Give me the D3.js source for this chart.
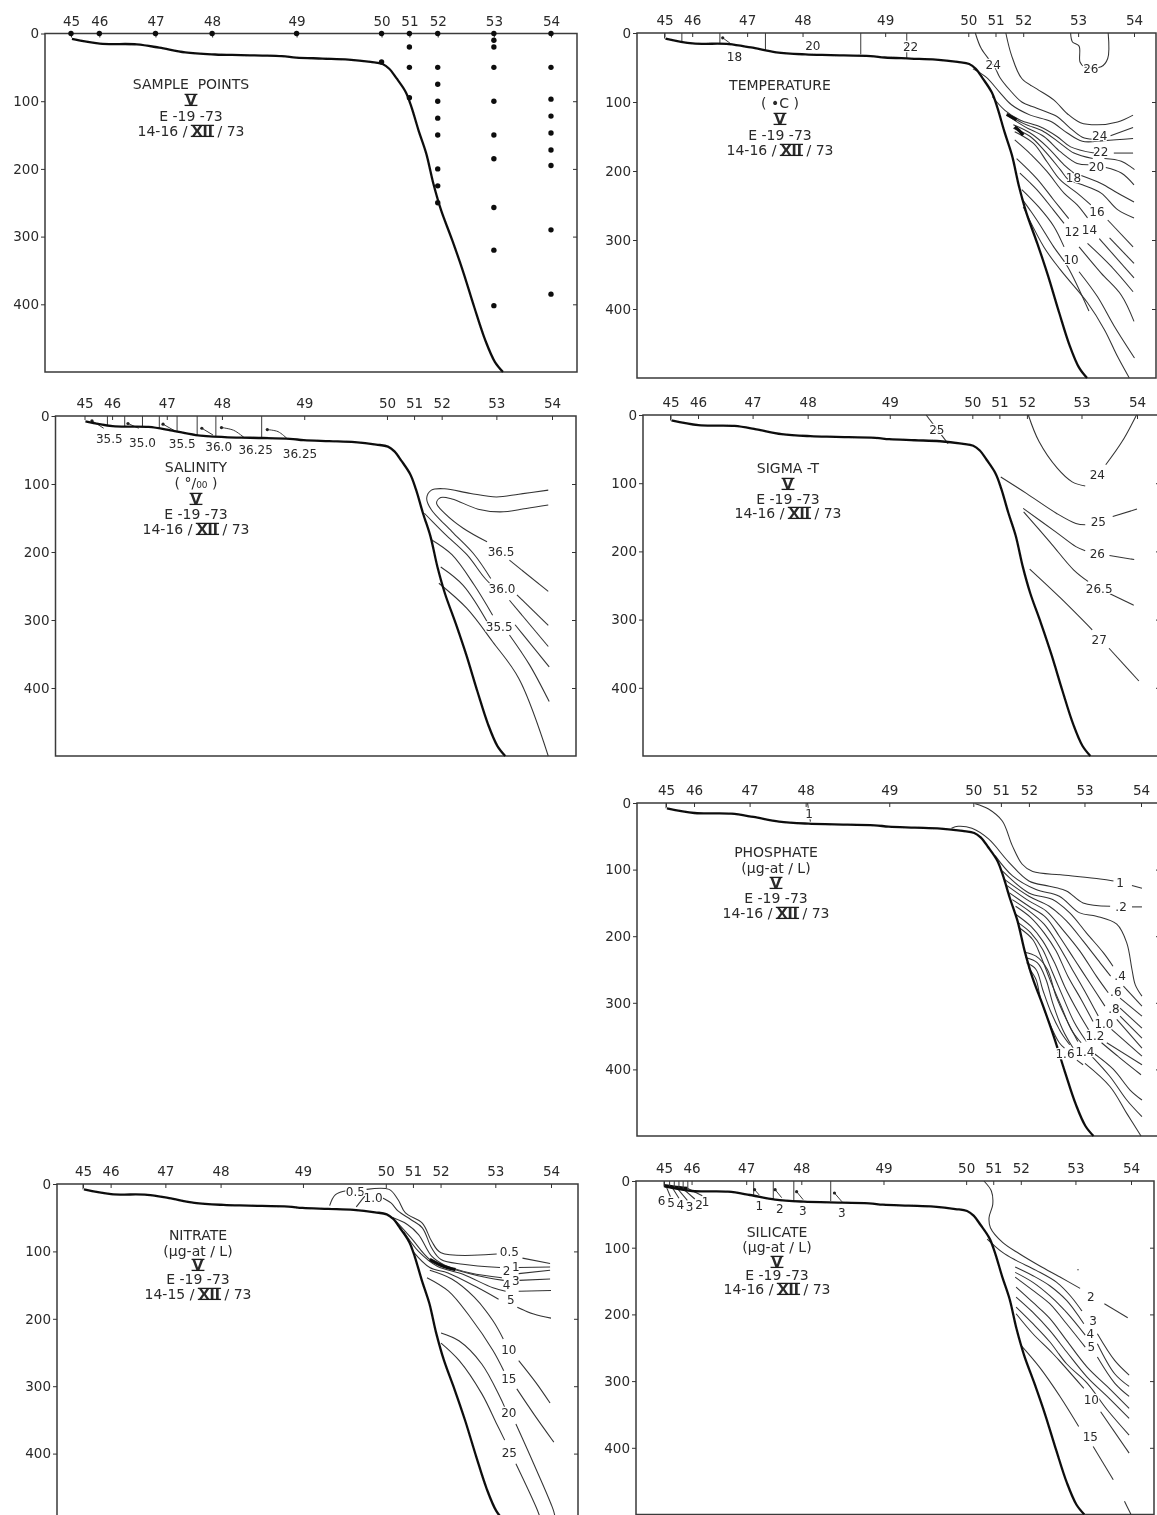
<!DOCTYPE html>
<html><head><meta charset="utf-8">
<script src="https://cdn.jsdelivr.net/npm/d3@7"></script>
<style>
html,body{margin:0;padding:0;background:#fff}
svg{display:block}
text{font-family:"DejaVu Sans",sans-serif;fill:#2a2a2a;white-space:pre}
.roman{font-weight:bold}
</style></head><body>
<svg id="c" width="1157" height="1515"></svg>
<script>
// ---------- shared section geometry (distance along section 0-1000, depth in m)
const stationNames = ["45","46","47","48","49","50","51","52","53","54"];
const stationDist  = [0,59,176,294,470,647,705,764,881,1000];
const depthTicks   = [0,100,200,300,400];
const bottomProfile = [[2,8],[60,15],[137,16],[184,21],[238,28],[300,31],[354,32],[439,33.5],[469,35.5],[524,37],[578,38.5],[624,42],[649,45],[663,52],[678,66],[697,86],[709,108],[724,143],[740,177],[755,222],[771,261],[794,305],[817,352],[840,404],[863,453],[883,485],[900,500]];

// ---------- sample points: depth lists per station
const sampleStations = ["45","46","47","48","49","50","51","52","53","54"];
const sampleDepths = [[0],[0],[0],[0],[0],[0,42],[0,20,50,95],[0,50,75,100,125,150,200,225,250],[0,10,20,50,100,150,185,257,320,402],[0,50,97,122,147,172,195,290,385]];

// ---------- temperature
const tempLines = [
 [[727,0],[739,32],[761,66],[793,81],[829,97],[858,117],[886,130],[922,133],[965,129],[998,119]],
 [[662,0],[675,23],[703,49],[714,64],[736,83],[761,100],[793,109],[836,121],[861,136],[890,151],[912,154]],
 [[950,149],[998,137]],
 [[657,52],[685,64],[714,86],[739,104],[779,119],[822,128],[858,145],[890,157],[937,156],[998,153]],
 [[698,92],[725,112],[757,126],[800,136],[836,150],[865,165],[915,174]],
 [[957,174],[998,174]],
 [[729,117],[764,131],[808,143],[843,160],[872,174],[912,182]],
 [[937,182],[973,186],[1001,198]],
 [[729,119],[768,136],[808,150],[843,172],[879,189],[904,191]],
 [[940,195],[973,203],[1000,220]],
 [[743,133],[779,145],[815,165],[851,191],[872,203]],
 [[886,206],[930,218],[965,232],[1000,245]],
 [[743,138],[779,150],[811,172],[843,198],[861,213],[890,220],[930,232],[965,256],[1000,268]],
 [[746,143],[786,160],[815,187],[843,213],[879,232],[908,249]],
 [[944,271],[998,310]],
 [[746,155],[782,177],[815,201],[851,232],[879,249],[901,268]],
 [[948,297],[1000,334]],
 [[750,182],[793,211],[829,242],[861,269]],
 [[926,298],[1000,355]],
 [[757,203],[793,227],[829,257],[851,276]],
 [[901,305],[951,338],[998,375]],
 [[761,227],[797,252],[829,280],[851,310]],
 [[883,310],[930,348],[973,380],[1000,418]],
 [[761,240],[793,271],[829,310],[858,338],[904,403]],
 [[883,346],[922,382],[958,425],[1001,471]],
 [[764,252],[808,310],[843,343],[901,391],[937,430],[965,469],[990,500]],
 [[865,0],[869,13],[883,19],[885,42],[894,49],[930,49],[944,37],[945,0]]
];
const tempHeavy = [[[729,118],[750,126]],[[746,136],[756,142],[764,148]]];
const tempVerticals = [[0,8],[37,13],[118,15],[215,26],[418,31],[516,36]];
const tempHooks = [[[124,7],[144,17]]];
const tempLabels = [["18",149,35],["20",316,18],["22",524,20],["24",700,46],["26",908,52],["24",927,149],["22",929,172],["20",920,194],["18",871,210],["16",921,259],["14",905,285],["12",868,288],["10",866,328]];

// ---------- salinity
const salLines = [
 [[992,131],[945,136],[889,141],[842,137],[786,122],[762,120],[753,128],[770,143],[810,165],[861,185]],
 [[909,212],[992,258]],
 [[992,109],[929,115],[881,119],[826,114],[770,107],[742,109],[732,121],[742,138],[786,170],[834,204],[869,239]],
 [[925,263],[992,308]],
 [[727,143],[770,173],[818,204],[857,239],[885,258]],
 [[909,271],[992,339]],
 [[742,182],[786,204],[834,249],[873,293]],
 [[921,307],[994,369]],
 [[762,222],[810,249],[865,307]],
 [[909,322],[952,366],[994,420]],
 [[758,246],[818,283],[873,332],[929,386],[992,500]]
];
const salVerticals = [[49,14],[86,15],[124,16],[160,19],[198,23],[241,28],[281,30],[379,33]];
const salHooks = [[[16,7],[41,18]],[[93,11],[116,18]],[[168,12],[196,23]],[[251,18],[275,28]],[[293,17],[319,21],[342,32]],[[391,20],[414,23],[433,33]]];
const salLabels = [["35.5",53,34],["35.0",124,39],["35.5",209,40],["36.0",287,45],["36.25",366,50],["36.25",461,55],["36.5",891,200],["36.0",893,254],["35.5",887,310]];

// ---------- sigma-t
const sigmaLines = [
 [[548,0],[595,42]],
 [[767,0],[790,39],[829,78],[861,98],[889,104]],
 [[933,73],[968,39],[999,0]],
 [[708,91],[763,115],[827,144],[869,159],[889,161]],
 [[948,149],[1000,138]],
 [[756,137],[825,171],[869,193],[889,199]],
 [[941,206],[994,212]],
 [[757,142],[813,186],[864,227],[895,244]],
 [[942,262],[993,279]],
 [[770,226],[837,269],[904,315]],
 [[940,342],[1004,390]]
];
const sigmaVerticals = [[0,8]];
const sigmaLabels = [["25",571,21],["24",915,87],["25",917,156],["26",915,203],["26.5",919,254],["27",919,330]];

// ---------- phosphate
const phosLines = [
 [[298,0],[304,28]],
 [[651,1],[679,9],[708,27],[729,64],[750,92],[772,103],[835,108],[914,114],[942,117]],
 [[981,124],[1002,128]],
 [[601,38],[615,35],[644,38],[679,54],[722,89],[764,117],[807,125],[843,132],[878,150],[935,155]],
 [[981,156],[1002,156]],
 [[693,79],[729,109],[779,130],[828,140],[871,165],[906,170],[949,182],[970,210],[981,250],[988,273],[1002,290]],
 [[708,102],[764,135],[814,145],[850,165],[885,195],[921,225],[941,245]],
 [[963,275],[1002,305]],
 [[711,114],[764,140],[807,155],[843,177],[878,207],[914,240],[936,260]],
 [[956,293],[1002,320]],
 [[718,124],[764,147],[800,162],[835,190],[871,222],[906,260],[931,285]],
 [[956,308],[1002,338]],
 [[723,135],[764,155],[800,172],[828,200],[860,235],[892,270],[924,305]],
 [[956,320],[1002,353]],
 [[729,145],[764,162],[796,182],[825,212],[853,247],[882,283],[910,320]],
 [[949,325],[1002,368]],
 [[736,155],[768,172],[796,195],[821,222],[846,260],[874,295],[899,328]],
 [[938,340],[1002,380]],
 [[736,167],[768,185],[793,207],[818,240],[839,275],[867,313],[892,343]],
 [[928,360],[1002,393]],
 [[742,180],[768,195],[793,220],[814,255],[835,290],[860,330],[885,358]],
 [[917,360],[956,383],[1000,408]],
 [[743,187],[772,205],[789,230],[811,270],[832,305],[853,340],[874,360]],
 [[899,375],[942,400],[977,431],[1002,446]],
 [[754,224],[779,230],[803,250],[821,290],[843,325],[867,358]],
 [[896,380],[935,411],[970,446],[1002,471]],
 [[757,232],[782,240],[800,265],[814,300],[835,340],[857,368]],
 [[882,391],[935,426],[970,466],[1000,500]],
 [[759,240],[779,250],[793,280],[811,315],[832,345],[850,363]],
 [[763,247],[779,265],[789,295],[807,330],[828,360],[839,368]],
 [[865,386],[878,393]]
];
const phosVerticals = [[0,8]];
const phosLabels = [["1",301,16],["1",956,119],[".2",958,156],[".4",956,259],[".6",947,283],[".8",943,309],["1.0",922,331],["1.2",903,349],["1.4",882,373],["1.6",840,377]];

// ---------- nitrate
const nitLines = [
 [[527,32],[539,16],[563,10]],
 [[606,8],[654,8],[673,23],[689,43],[725,58],[745,85],[765,102],[884,104]],
 [[939,110],[998,118]],
 [[584,34],[602,18]],
 [[638,20],[658,28],[673,40],[701,53],[725,65],[745,95],[765,112],[812,119],[891,124]],
 [[931,124],[998,123]],
 [[654,48],[693,60],[717,75],[745,107],[772,120],[828,132],[895,139]],
 [[931,133],[998,128]],
 [[662,50],[701,80],[741,112],[780,124],[844,136],[899,143]],
 [[931,143],[998,141]],
 [[685,70],[717,100],[757,122],[812,134],[876,154],[903,159]],
 [[931,159],[1000,158]],
 [[705,100],[741,124],[780,132],[844,154],[888,171]],
 [[928,183],[963,193],[1000,199]],
 [[741,128],[788,141],[836,168],[876,203],[898,230]],
 [[931,262],[967,294],[998,325]],
 [[735,139],[781,159],[828,198],[876,247],[899,277]],
 [[927,304],[963,341],[1006,383]],
 [[765,221],[804,233],[852,267],[891,316],[901,331]],
 [[925,356],[963,415],[1006,486],[1010,500]],
 [[765,236],[804,262],[852,311],[884,356],[901,380]],
 [[925,415],[971,484],[979,500]]
];
const nitHeavy = [[[741,112],[770,122],[796,127]]];
const nitVerticals = [[0,8]];
const nitLabels = [["0.5",582,11],["1.0",620,21],["0.5",911,101],["1",925,122],["2",905,128],["3",925,143],["4",905,150],["5",914,172],["10",910,246],["15",910,289],["20",910,339],["25",911,399]];

// ---------- silicate
const silLines = [
 [[685,0],[701,15],[704,35],[696,55],[699,70],[725,92],[761,109],[804,127],[848,144],[891,161]],
 [[943,184],[993,205]],
 [[692,87],[725,107],[754,119],[797,134],[841,152],[870,172],[895,195]],
 [[752,129],[790,142],[826,157],[862,179],[899,214]],
 [[928,229],[965,269],[996,291]],
 [[752,137],[790,152],[826,172],[862,197],[902,231]],
 [[928,244],[965,289],[996,308]],
 [[752,144],[790,164],[826,184],[862,214],[902,249]],
 [[928,264],[965,303],[996,323]],
 [[754,159],[790,182],[826,206],[862,239],[906,279],[949,308],[996,341]],
 [[754,174],[790,197],[826,224],[862,256],[906,294],[949,323],[996,356]],
 [[754,189],[790,214],[826,241],[862,274],[906,303],[949,343],[996,381]],
 [[754,199],[790,229],[833,259],[899,311]],
 [[935,346],[996,408]],
 [[764,246],[804,279],[848,323],[888,368]],
 [[919,398],[962,448]],
 [[986,480],[1000,500]],
 [[885,133],[888,133]]
];
const silVerticals = [[0,8],[12,9],[22,10],[32,11],[41,12],[51,13],[192,21],[234,27],[278,29],[357,30]];
const silHooks = [[[194,13],[204,21]],[[238,13],[252,25]],[[284,16],[298,28]],[[365,18],[381,31]]];
const silTicks = [[[4,7],[14,24]],[[16,8],[32,26]],[[26,9],[50,29]],[[38,10],[66,27]],[[50,11],[82,22]]];
const silHeavy = [[[0,7],[22,9],[50,11]]];
const silLabels = [["6",-5,30],["5",15,33],["4",35,36],["3",55,39],["2",75,36],["1",89,31],["1",204,37],["2",248,42],["3",297,45],["3",381,47],["2",914,173],["3",919,209],["4",913,229],["5",915,249],["10",915,328],["15",913,383]];

// ---------- panel layout
const panels = [
 {x0:71, x1:551, left:45, right:577, y0:33.5, y500:372, tc:191,
  title:["SAMPLE  POINTS","V","E -19 -73","14-16 / XII / 73"], ty:[84,100,116,131], samples:true},
 {x0:664.5, x1:1134, left:637, right:1156, y0:33, y500:378, tc:780,
  title:["TEMPERATURE","( •C )","V","E -19 -73","14-16 / XII / 73"], ty:[85,103,119,135,150],
  lines:tempLines, heavy:tempHeavy, verticals:tempVerticals, hooks:tempHooks, labels:tempLabels},
 {x0:84.5, x1:552, left:55.5, right:576, y0:416, y500:756, tc:196,
  title:["SALINITY","( °/₀₀ )","V","E -19 -73","14-16 / XII / 73"], ty:[467,483,499,514,529],
  lines:salLines, verticals:salVerticals, hooks:salHooks, labels:salLabels},
 {x0:670.5, x1:1137, left:643, right:1160, y0:415, y500:756, tc:788,
  title:["SIGMA -T","V","E -19 -73","14-16 / XII / 73"], ty:[468,484,499,513],
  lines:sigmaLines, verticals:sigmaVerticals, labels:sigmaLabels},
 {x0:666, x1:1141, left:637, right:1160, y0:803, y500:1136, tc:776,
  title:["PHOSPHATE","(µg-at / L)","V","E -19 -73","14-16 / XII / 73"], ty:[852,868,883,898,913],
  lines:phosLines, verticals:phosVerticals, labels:phosLabels},
 {x0:83, x1:551, left:57, right:578, y0:1184, y500:1521, tc:198,
  title:["NITRATE","(µg-at / L)","V","E -19 -73","14-15 / XII / 73"], ty:[1235,1251,1265,1279,1294],
  lines:nitLines, heavy:nitHeavy, verticals:nitVerticals, labels:nitLabels},
 {x0:664, x1:1131, left:636, right:1154, y0:1181, y500:1514.5, tc:777,
  title:["SILICATE","(µg-at / L)","V","E -19 -73","14-16 / XII / 73"], ty:[1232,1247,1262,1275,1289],
  lines:silLines, heavy:silHeavy, verticals:silVerticals, hooks:silHooks, extra:silTicks, labels:silLabels}
];

const svg = d3.select("#c");
const defs = svg.append("defs");
defs.append("filter").attr("id","scan").attr("x",0).attr("y",0).attr("width",1157).attr("height",1515)
    .attr("filterUnits","userSpaceOnUse")
    .append("feGaussianBlur").attr("stdDeviation",0.4);
const root = svg.append("g").attr("filter","url(#scan)");

const line = (x,y)=>d3.line().x(d=>x(d[0])).y(d=>y(d[1])).curve(d3.curveCatmullRom.alpha(0.5));

panels.forEach(p=>{
  const g = root.append("g");
  const x = d3.scaleLinear().domain([0,1000]).range([p.x0,p.x1]);
  const y = d3.scaleLinear().domain([0,500]).range([p.y0,p.y500]);
  const path = line(x,y);

  // frame
  g.append("path").attr("fill","none").attr("stroke","#3a3a3a").attr("stroke-width",1.5)
   .attr("d",`M${p.left},${p.y0}H${p.right}V${p.y500}H${p.left}Z`);

  // axes
  const top = d3.axisTop(x).tickValues(stationDist).tickSizeInner(-4).tickSizeOuter(0).tickPadding(8)
     .tickFormat(d=>stationNames[stationDist.indexOf(d)]);
  const ax = g.append("g").attr("transform",`translate(0,${p.y0})`).call(top);
  const lf = d3.axisLeft(y).tickValues(depthTicks).tickSizeInner(4).tickSizeOuter(0).tickPadding(2).tickFormat(d3.format("d"));
  const ay = g.append("g").attr("transform",`translate(${p.left},0)`).call(lf);
  const rt = d3.axisLeft(y).tickValues(depthTicks.slice(1)).tickSizeInner(4).tickSizeOuter(0).tickFormat("");
  const ar = g.append("g").attr("transform",`translate(${p.right},0)`).call(rt);
  [ax,ay,ar].forEach(a=>{
    a.select(".domain").remove();
    a.selectAll("line").attr("stroke","#333").attr("stroke-width",1);
    a.selectAll("text").attr("font-family","DejaVu Sans").attr("font-size",13.5).attr("fill","#2a2a2a");
  });

  // thin contour lines
  const thin = [...(p.lines||[]),...(p.extra||[])];
  g.selectAll("path.c").data(thin).join("path").attr("class","c")
   .attr("fill","none").attr("stroke","#333").attr("stroke-width",1.05).attr("d",path);
  g.selectAll("path.h").data(p.heavy||[]).join("path").attr("class","h")
   .attr("fill","none").attr("stroke","#111").attr("stroke-width",3.2).attr("d",path);
  g.selectAll("line.v").data(p.verticals||[]).join("line").attr("class","v")
   .attr("x1",d=>x(d[0])).attr("x2",d=>x(d[0])).attr("y1",y(0)).attr("y2",d=>y(d[1]))
   .attr("stroke","#3a3a3a").attr("stroke-width",1);
  g.selectAll("path.k").data(p.hooks||[]).join("path").attr("class","k")
   .attr("fill","none").attr("stroke","#3a3a3a").attr("stroke-width",1).attr("d",path);
  g.selectAll("circle.k").data(p.hooks||[]).join("circle").attr("class","k")
   .attr("cx",d=>x(d[0][0])).attr("cy",d=>y(d[0][1])).attr("r",1.6).attr("fill","#222");

  // bottom profile
  g.append("path").datum(bottomProfile).attr("fill","none").attr("stroke","#111")
   .attr("stroke-width",2.3).attr("stroke-linejoin","round").attr("d",path);

  // sample points
  if(p.samples){
    const pts = sampleDepths.flatMap((ds,i)=>ds.map(d=>[stationDist[i],d]));
    g.selectAll("circle.s").data(pts).join("circle").attr("class","s")
     .attr("cx",d=>x(d[0])).attr("cy",d=>y(d[1])).attr("r",2.7).attr("fill","#111");
  }

  // contour labels
  g.selectAll("text.l").data(p.labels||[]).join("text").attr("class","l")
   .attr("x",d=>x(d[1])).attr("y",d=>y(d[2])).attr("dy","0.36em")
   .attr("text-anchor","middle").attr("font-size",12)
   .attr("stroke","#fff").attr("stroke-width",2.5).attr("paint-order","stroke").text(d=>d[0]);

  // title block, roman numerals barred above and below
  p.title.forEach((t,i)=>{
    const tx = g.append("text").attr("x",p.tc).attr("y",p.ty[i]).attr("dy","0.36em")
       .attr("text-anchor","middle").attr("font-size",14);
    const parts = t==="V" ? ["V"] : t.split(/(XII)/);
    const romans = [];
    parts.forEach(part=>{
      const s = tx.append("tspan").text(part);
      if(part==="XII"||part==="V"){ s.attr("class","roman"); romans.push(s); }
    });
    romans.forEach(s=>{
      const n = s.node(), a = n.getStartPositionOfChar(0).x, w = n.getComputedTextLength();
      [-5.6,5.4].forEach(off=>{
        g.append("line").attr("x1",a-1).attr("x2",a+w+1).attr("y1",p.ty[i]+off).attr("y2",p.ty[i]+off)
         .attr("stroke","#1a1a1a").attr("stroke-width",1.3);
      });
    });
  });
});
</script>
</body></html>
